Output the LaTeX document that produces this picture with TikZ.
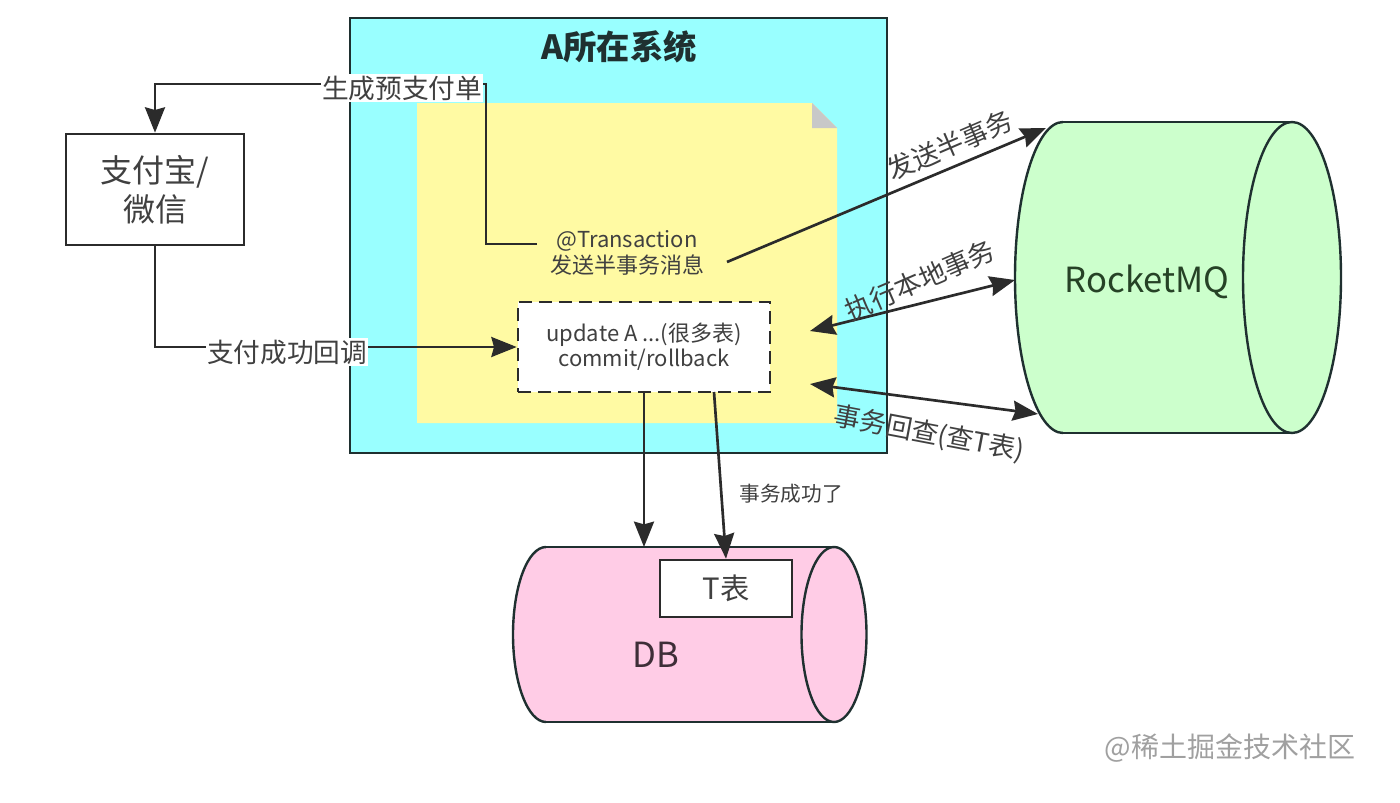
\documentclass[tikz,border=0pt]{standalone}
\usepackage{fontspec}
\setmainfont{Noto Sans CJK SC}
\usetikzlibrary{arrows.meta,calc}
\definecolor{cyanfill}{HTML}{99FFFF}
\definecolor{notefill}{HTML}{FFFAA3}
\definecolor{foldgray}{HTML}{C8C8C8}
\definecolor{mqfill}{HTML}{CCFFCC}
\definecolor{dbfill}{HTML}{FFCCE6}
\definecolor{linec}{HTML}{2B2B2B}
\definecolor{boxline}{HTML}{1F3030}
\definecolor{txt}{HTML}{404040}
\definecolor{mqtxt}{HTML}{264226}
\definecolor{dbtxt}{HTML}{3E2E38}
\definecolor{wmark}{HTML}{A0A0A0}
\tikzset{
  arr/.style={draw=linec,line width=2pt,-{Stealth[length=19pt,width=15pt,inset=2pt]}},
  biarr/.style={draw=linec,line width=2pt,{Stealth[length=19pt,width=15pt,inset=2pt]}-{Stealth[length=19pt,width=15pt,inset=2pt]}},
  lbl/.style={text=txt,font=\fontsize{20}{24}\selectfont,inner sep=1pt},
  wlbl/.style={lbl,fill=white},
  cylline/.style={draw=boxline,line width=1.8pt},
}
\begin{document}
\begin{tikzpicture}[x=0.75pt,y=-0.75pt]
\useasboundingbox (0,0) rectangle (1400,803);
\fill[white] (0,0) rectangle (1400,803);

% system box
\draw[fill=cyanfill,draw=boxline,line width=2pt] (350,18) rectangle (887,453);
\node[font=\bfseries\fontsize{25}{29}\selectfont,text=boxline] (title) at (619,47) {A所在系统};

% note
\fill[notefill] (417,103) -- (812,103) -- (837,128) -- (837,423) -- (417,423) -- cycle;
\fill[foldgray] (812,103) -- (837,128) -- (812,128) -- cycle;

\node[align=center,text=txt,font=\fontsize{16.5}{19.5}\selectfont,inner sep=0pt] (trans) at (627,253) {@Transaction\\发送半事务消息};

\node[draw=linec,fill=white,line width=2pt,dash pattern=on 10pt off 5pt,
      minimum width=189pt,minimum height=67.5pt,align=center,text=txt,
      font=\fontsize{16.5}{19}\selectfont] (upd) at (644,347)
      {update A ...(很多表)\\commit/rollback};

% pay box
\node[draw=linec,fill=white,line width=2pt,minimum width=133.5pt,minimum height=83.25pt,
      align=center,text=txt,font=\fontsize{24}{29}\selectfont] (zfb) at (155,189.5) {支付宝/\\微信};

% RocketMQ cylinder
\fill[mqfill] (1063,122) rectangle (1292,433);
\fill[mqfill] (1063,277.5) ellipse [x radius=48, y radius=155.5];
\draw[cylline] (1063,433) arc [start angle=90, end angle=270, x radius=48, y radius=155.5];
\draw[cylline] (1063,122) -- (1292,122);
\draw[cylline] (1063,433) -- (1292,433);
\draw[cylline,fill=mqfill] (1292,277.5) ellipse [x radius=49, y radius=155.5];
\node[text=mqtxt,font=\fontsize{26}{30}\selectfont] (mq) at (1147,282) {RocketMQ};

% DB cylinder
\fill[dbfill] (546,547) rectangle (834,722);
\fill[dbfill] (546,634.5) ellipse [x radius=33, y radius=87.5];
\draw[cylline] (546,722) arc [start angle=90, end angle=270, x radius=33, y radius=87.5];
\draw[cylline] (546,547) -- (834,547);
\draw[cylline] (546,722) -- (834,722);
\draw[cylline,fill=dbfill] (834,634.5) ellipse [x radius=32.5, y radius=87.5];
\node[text=dbtxt,font=\fontsize{26}{30}\selectfont] (db) at (656,655) {DB};
\node[draw=linec,fill=white,line width=2pt,minimum width=99pt,minimum height=42.75pt,
      text=txt,font=\fontsize{22}{26}\selectfont] (tbox) at (726,588.5) {T表};

% coordinates
\coordinate (transW) at (537,244);
\coordinate (turn1) at (486,84);
\coordinate (sendS) at (727,262);
\coordinate (mqTop) at (1046,128);
\coordinate (updR1) at (810,331);
\coordinate (mqMid) at (1015,280);
\coordinate (updR2) at (810,384);
\coordinate (mqLow) at (1038,414);
\coordinate (updB2) at (714,392);
\coordinate (dbTop) at (644,547);

% connectors
\draw[arr] (transW) -| (turn1) -| (zfb.north);
\node[wlbl] (l1) at (402,88) {生成预支付单};

\draw[arr] (zfb.south) |- (upd.west);
\node[wlbl] (l2) at (287,352) {支付成功回调};

\draw[arr] (sendS) -- (mqTop);
\node[lbl,rotate=23.3] (l3) at (950,145) {发送半事务};

\draw[biarr] (updR1) -- (mqMid);
\node[lbl,rotate=23.4] (l4) at (920,280) {执行本地事务};

\draw[biarr] (updR2) -- (mqLow);
\node[lbl,rotate=-10.8] (l5) at (929,434) {事务回查(查T表)};

\draw[arr] (upd.south) -- (dbTop);
\draw[arr] (updB2) -- (tbox.north);
\node[lbl,font=\fontsize{15.5}{18}\selectfont] (l6) at (791,494) {事务成功了};

\node[text=wmark,font=\fontsize{21}{25}\selectfont] (wm) at (1230,748) {@稀土掘金技术社区};
\end{tikzpicture}
\end{document}
